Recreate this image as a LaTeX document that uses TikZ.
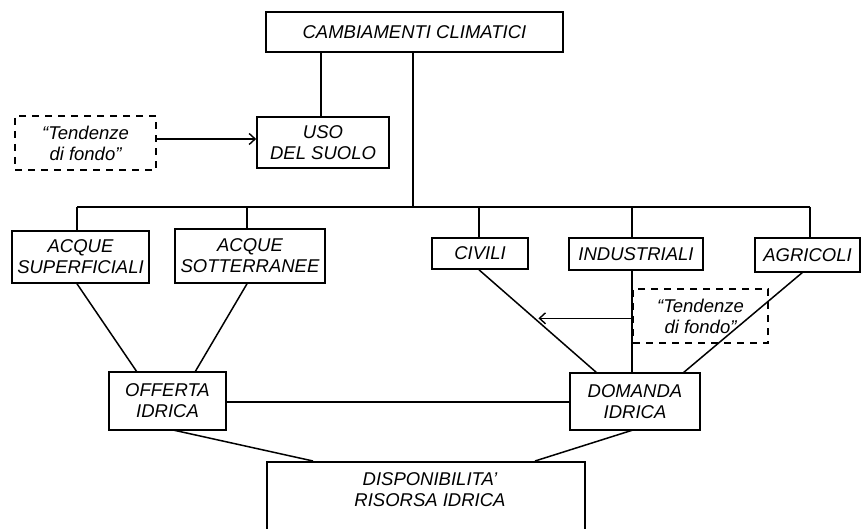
\documentclass[tikz,border=0pt]{standalone}
\usepackage{fontspec}
\setmainfont{Liberation Sans}
\usetikzlibrary{arrows.meta}
\begin{document}
\begin{tikzpicture}[x=1pt,y=-1pt,
  every node/.style={font=\itshape\fontsize{18.5}{21}\selectfont, align=center, inner sep=0pt},
  box/.style={draw, line width=1.6pt, rectangle},
  trendbox/.style={draw, line width=1.5pt, dash pattern=on 7pt off 6pt, rectangle},
  link/.style={line width=1.5pt},
  pointer/.style={line width=1.5pt, -{Straight Barb[length=6pt,width=11pt,line width=1.4pt]}}
]
\useasboundingbox (0,0) rectangle (862,529);

% top level
\node[box, minimum width=297, minimum height=40] (clim) at (414.5,32) {CAMBIAMENTI CLIMATICI};
\node[box, minimum width=132, minimum height=51] (uso) at (323,142.5) {USO\\DEL SUOLO};
\node[trendbox, minimum width=141, minimum height=54] (tendA) at (85.5,143) {``Tendenze\\di fondo''};

% resources and uses
\node[box, minimum width=137, minimum height=52] (sup) at (80.5,257) {ACQUE\\SUPERFICIALI};
\node[box, minimum width=150, minimum height=54] (sott) at (250,256) {ACQUE\\SOTTERRANEE};
\node[box, minimum width=96, minimum height=31] (civ) at (480,253.5) {CIVILI};
\node[box, minimum width=134, minimum height=32] (ind) at (636,254) {INDUSTRIALI};
\node[box, minimum width=105, minimum height=34] (agr) at (807.5,255) {AGRICOLI};
\node[trendbox, minimum width=135, minimum height=54] (tendB) at (700.5,316) {``Tendenze\\di fondo''};

% supply, demand, availability
\node[box, minimum width=117, minimum height=58] (off) at (167.5,401) {OFFERTA\\IDRICA};
\node[box, minimum width=130, minimum height=57] (dom) at (635,401.5) {DOMANDA\\IDRICA};
\node[box, minimum width=318, minimum height=100, anchor=north] (disp) at (426,461) {};
\node (dispt) at (430,490) {DISPONIBILITA'\\RISORSA IDRICA};

% distribution bus
\coordinate (busL) at (77,207);
\coordinate (busS) at (247,207);
\coordinate (busC) at (413,207);
\coordinate (busV) at (479,207);
\coordinate (busI) at (632,207);
\coordinate (busR) at (810,207);

\draw[link] ([xshift=-2pt]uso.north) -- ([xshift=-2pt]uso.north |- clim.south);
\draw[link] (busC |- clim.south) -- (busC);
\draw[link] (busL) -- (busR);
\draw[link] (busL) -- (busL |- sup.north);
\draw[link] (busS) -- (busS |- sott.north);
\draw[link] (busV) -- (busV |- civ.north);
\draw[link] (busI) -- (busI |- ind.north);
\draw[link] (busR) -- (busR |- agr.north);

\draw[pointer] (tendA.east |- 0,139) -- (uso.west |- 0,139);

% converging links
\draw[link] (sup.south -| busL) -- (137,372);
\draw[link] (sott.south -| busS) -- (195,372);
\draw[link] (civ.south -| busV) -- coordinate[pos=0.47] (hit) (597,373);
\draw[link] (ind.south -| busI) -- (busI |- dom.north);
\draw[link] (803,272) -- (683,373);
\draw[pointer] (tendB.west |- hit) -- ([xshift=4pt]hit);

\draw[link] (off.east |- 0,402) -- (dom.west |- 0,402);
\draw[link] (173,430) -- (313,461);
\draw[link] (633,430) -- (535,461);
\end{tikzpicture}
\end{document}
